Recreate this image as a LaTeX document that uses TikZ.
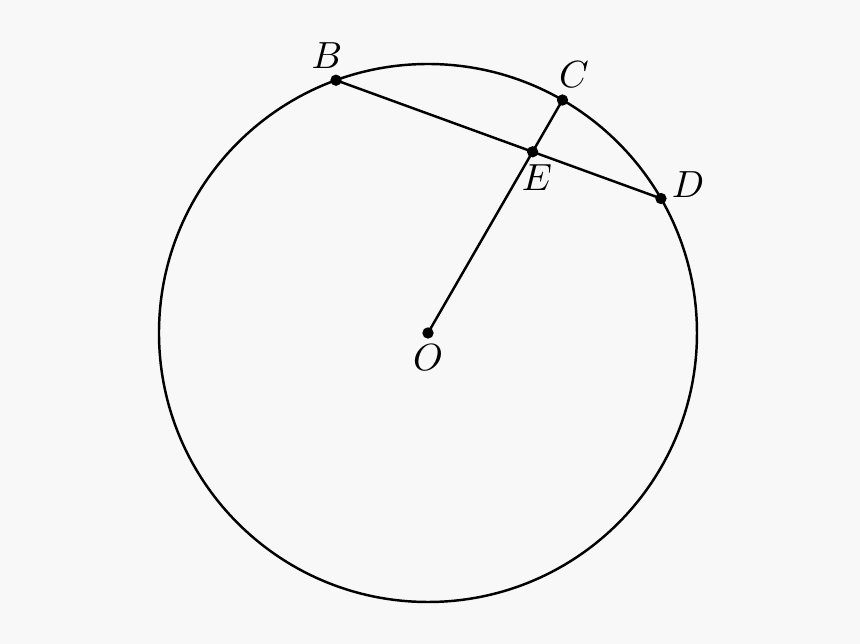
\documentclass[tikz,border=0pt]{standalone}
\begin{document}
\begin{tikzpicture}[x=0.0093cm,y=0.0093cm,
  geo/.style={line width=0.65pt,black},
  ptdot/.style={circle,fill=black,inner sep=0pt,minimum size=3pt},
  lbl/.style={inner sep=0pt,font=\normalsize}]
\definecolor{bgc}{HTML}{F8F8F8}
\fill[bgc] (-428,-311) rectangle (432,333);
\useasboundingbox (-428,-311) rectangle (432,333);
\coordinate (O) at (0,0);
\coordinate (B) at (110:269);
\coordinate (C) at (60:269);
\coordinate (D) at (30:269);
\coordinate (E) at (intersection of B--D and O--C);
\draw[geo] (O) circle (269);
\draw[geo] (B) -- (D);
\draw[geo] (O) -- (C);
\foreach \p in {O,B,C,D,E} \node[ptdot] (dot\p) at (\p) {};
\node[lbl] (lB) at (-101,277) {$B$};
\node[lbl] (lC) at (146,258) {$C$};
\node[lbl] (lD) at (260,148) {$D$};
\node[lbl] (lE) at (109,155) {$E$};
\node[lbl] (lO) at (0,-25) {$O$};
\end{tikzpicture}
\end{document}
